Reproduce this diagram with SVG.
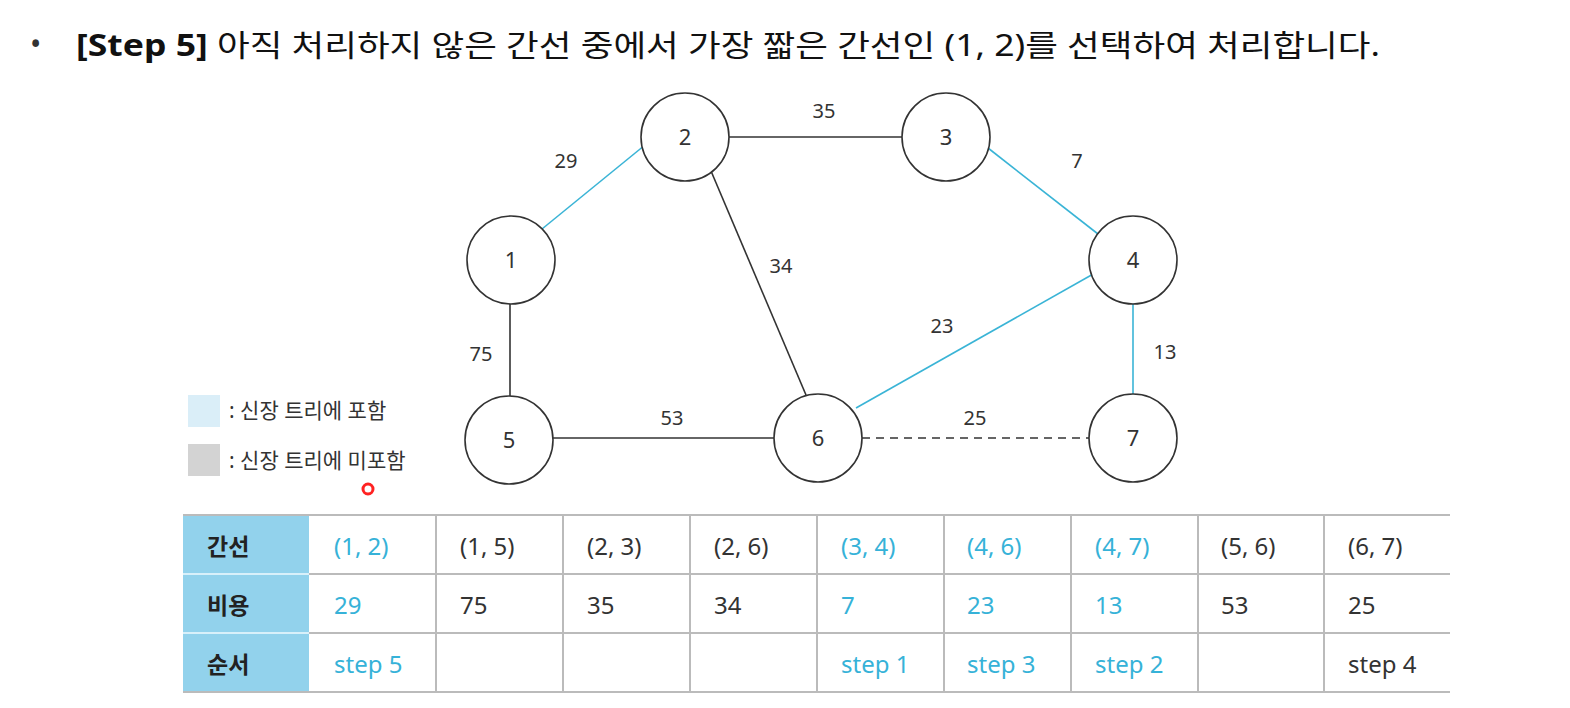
<svg xmlns="http://www.w3.org/2000/svg" width="1570" height="708" viewBox="0 0 1570 708">
<style>
text{font-family:"Noto Sans","Noto Sans CJK KR",sans-serif;fill:#333}
.n circle{fill:#fff;stroke:#333;stroke-width:1.6}
.n text{font-size:22px;text-anchor:middle}
.e{stroke:#333;stroke-width:1.6;fill:none}
.b{stroke:#3ab4d6}
.lbl{font-size:20px;text-anchor:middle}
.t{font-size:24px}
.bl{fill:#36b2d8}
.hd{font-size:23px;font-weight:bold;fill:#222}
.g{stroke:#bbb;stroke-width:2}
</style>
<rect width="1570" height="708" fill="#fff"/>
<text x="30" y="55" style="font-size:30px">•</text>
<text x="76" y="56" style="font-size:30px;fill:#111" textLength="1304" lengthAdjust="spacingAndGlyphs"><tspan font-weight="bold">[Step 5]</tspan> 아직 처리하지 않은 간선 중에서 가장 짧은 간선인 (1, 2)를 선택하여 처리합니다.</text>
<g id="edges">
<line class="e b" x1="542" y1="229" x2="645" y2="145"/>
<line class="e" x1="729" y1="137" x2="902" y2="137"/>
<line class="e" x1="711" y1="171" x2="806" y2="395"/>
<line class="e b" x1="988" y1="148" x2="1098" y2="234"/>
<line class="e" x1="510" y1="304" x2="510" y2="396"/>
<line class="e b" x1="1133" y1="304" x2="1133" y2="394"/>
<line class="e" x1="553" y1="438" x2="774" y2="438"/>
<line class="e b" x1="856" y1="408" x2="1095" y2="273"/>
<line class="e" x1="862" y1="438" x2="1089" y2="438" stroke-dasharray="8,6"/>
<text class="lbl" x="566" y="168">29</text>
<text class="lbl" x="824" y="118">35</text>
<text class="lbl" x="1077" y="168">7</text>
<text class="lbl" x="781" y="273">34</text>
<text class="lbl" x="942" y="333">23</text>
<text class="lbl" x="1165" y="359">13</text>
<text class="lbl" x="481" y="361">75</text>
<text class="lbl" x="672" y="425">53</text>
<text class="lbl" x="975" y="425">25</text>
</g>
<g id="node1" class="n"><circle cx="511" cy="260" r="44"/><text x="511" y="268">1</text></g>
<g id="node2" class="n"><circle cx="685" cy="137" r="44"/><text x="685" y="145">2</text></g>
<g id="node3" class="n"><circle cx="946" cy="137" r="44"/><text x="946" y="145">3</text></g>
<g id="node4" class="n"><circle cx="1133" cy="260" r="44"/><text x="1133" y="268">4</text></g>
<g id="node5" class="n"><circle cx="509" cy="440" r="44"/><text x="509" y="448">5</text></g>
<g id="node6" class="n"><circle cx="818" cy="438" r="44"/><text x="818" y="446">6</text></g>
<g id="node7" class="n"><circle cx="1133" cy="438" r="44"/><text x="1133" y="446">7</text></g>
<g id="legend">
<rect x="188" y="395" width="32" height="32" fill="#daeef8"/>
<rect x="188" y="444" width="32" height="32" fill="#d3d3d3"/>
<text x="229" y="418" style="font-size:21px">: 신장 트리에 포함</text>
<text x="229" y="468" style="font-size:21px">: 신장 트리에 미포함</text>
<circle cx="368" cy="489" r="5" fill="#fff" stroke="#f22" stroke-width="3"/>
</g>
<g id="table">
<rect x="183" y="516" width="126" height="176" fill="#92d2ec"/>
<line x1="183" y1="574" x2="309" y2="574" stroke="#d8f0fa" stroke-width="2"/>
<line x1="183" y1="633" x2="309" y2="633" stroke="#d8f0fa" stroke-width="2"/>
<line class="g" x1="183" y1="515" x2="1450" y2="515"/>
<line class="g" x1="309" y1="574" x2="1450" y2="574"/>
<line class="g" x1="309" y1="633" x2="1450" y2="633"/>
<line class="g" x1="183" y1="692" x2="1450" y2="692"/>
<g class="g"><line x1="436" y1="515" x2="436" y2="692"/><line x1="563" y1="515" x2="563" y2="692"/><line x1="690" y1="515" x2="690" y2="692"/><line x1="817" y1="515" x2="817" y2="692"/><line x1="944" y1="515" x2="944" y2="692"/><line x1="1071" y1="515" x2="1071" y2="692"/><line x1="1198" y1="515" x2="1198" y2="692"/><line x1="1324" y1="515" x2="1324" y2="692"/></g>
<text class="hd" x="207" y="555">간선</text>
<text class="hd" x="207" y="614">비용</text>
<text class="hd" x="207" y="673">순서</text>
<g class="t">
<text class="t bl" x="334" y="555">(1, 2)</text><text class="t" x="460" y="555">(1, 5)</text><text class="t" x="587" y="555">(2, 3)</text><text class="t" x="714" y="555">(2, 6)</text><text class="t bl" x="841" y="555">(3, 4)</text><text class="t bl" x="967" y="555">(4, 6)</text><text class="t bl" x="1095" y="555">(4, 7)</text><text class="t" x="1221" y="555">(5, 6)</text><text class="t" x="1348" y="555">(6, 7)</text>
<text class="t bl" x="334" y="614">29</text><text class="t" x="460" y="614">75</text><text class="t" x="587" y="614">35</text><text class="t" x="714" y="614">34</text><text class="t bl" x="841" y="614">7</text><text class="t bl" x="967" y="614">23</text><text class="t bl" x="1095" y="614">13</text><text class="t" x="1221" y="614">53</text><text class="t" x="1348" y="614">25</text>
<text class="t bl" x="334" y="673">step 5</text><text class="t bl" x="841" y="673">step 1</text><text class="t bl" x="967" y="673">step 3</text><text class="t bl" x="1095" y="673">step 2</text><text class="t" x="1348" y="673">step 4</text>
</g>
</g>
</svg>
